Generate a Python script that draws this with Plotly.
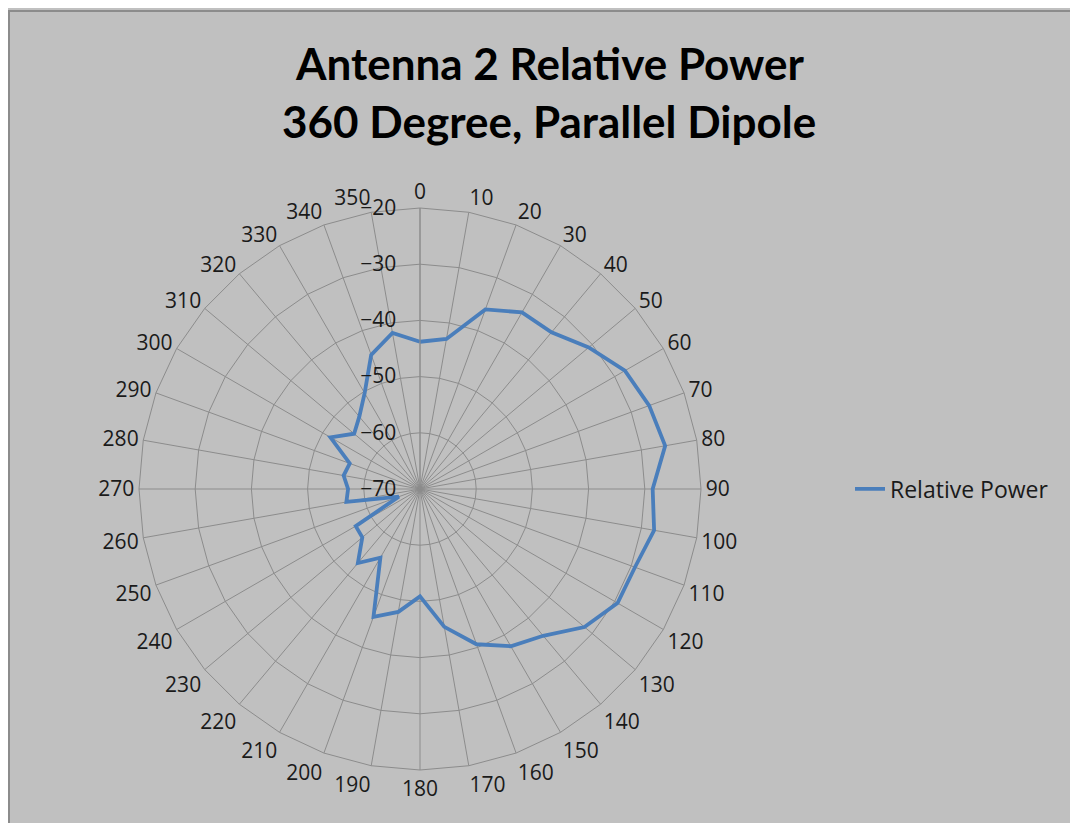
import plotly.graph_objects as go

angles = [str(a) for a in range(0, 360, 10)]
power = [-43.8, -42.9, -36.0, -33.7, -33.6, -30.8, -27.9, -26.6, -25.7, -28.6,
         -27.7, -29.3, -29.4, -31.8, -35.9, -37.7, -40.6, -45.1, -50.9, -47.8,
         -45.8, -55.9, -52.8, -56.6, -56.8, -66.0, -56.7, -57.2, -56.2, -56.7,
         -51.6, -54.7, -53.2, -50.3, -44.6, -41.8]
radial_ticks = [-70, -60, -50, -40, -30, -20]
series_name = "Relative Power"
title_lines = ["Antenna 2 Relative Power", "360 Degree, Parallel Dipole"]

fig = go.Figure()
fig.add_trace(go.Scatterpolar(
    r=power + power[:1],
    theta=angles + angles[:1],
    mode="lines",
    name=series_name,
    line=dict(color="#4A7EBB", width=3.8),
))

W, H = 1078, 823
OFF = 8  # page body margin
def px(x):
    return (x - OFF) / W
def py(y):
    return 1 - (y - OFF) / H

cx, cy, R = 420, 489, 281
fig.update_layout(
    width=W, height=H,
    margin=dict(l=0, r=0, t=0, b=0),
    paper_bgcolor="#C0C0C0",
    plot_bgcolor="#C0C0C0",
    font=dict(family="Open Sans", color="#1a1a1a"),
    shapes=[dict(type="rect", xref="paper", yref="paper",
                 x0=px(9), x1=1.05, y0=-0.05, y1=py(11),
                 fillcolor="#C0C0C0", line=dict(color="#8C8C8C", width=2),
                 layer="below")],
    annotations=[
        dict(text=title_lines[0], x=px(549), y=py(63), xref="paper", yref="paper",
             xanchor="center", yanchor="middle", showarrow=False,
             font=dict(family="Lato", size=44, color="black", weight="bold")),
        dict(text=title_lines[1], x=px(549), y=py(121), xref="paper", yref="paper",
             xanchor="center", yanchor="middle", showarrow=False,
             font=dict(family="Lato", size=44, color="black", weight="bold")),
    ],
    polar=dict(
        domain=dict(x=[px(cx - R), px(cx + R)],
                    y=[py(cy + R), py(cy - R)]),
        bgcolor="#C0C0C0",
        gridshape="linear",
        angularaxis=dict(
            type="category", rotation=90, direction="clockwise",
            showline=True, linecolor="#8C8C8C", linewidth=1,
            gridcolor="#8C8C8C", gridwidth=1,
            ticks="", tickfont=dict(size=21, color="#1a1a1a"),
        ),
        radialaxis=dict(
            range=[-70, -20], tickvals=radial_ticks,
            angle=90, side="counterclockwise", tickangle=90,
            ticks="outside", ticklen=16, tickcolor="rgba(0,0,0,0)",
            showline=True, linecolor="#8C8C8C", linewidth=1,
            gridcolor="#8C8C8C", gridwidth=1,
            tickfont=dict(size=21, color="#1a1a1a"),
        ),
    ),
    showlegend=True,
    legend=dict(x=px(850), y=py(489), xanchor="left", yanchor="middle",
                bgcolor="rgba(0,0,0,0)", font=dict(size=23, color="#1a1a1a")),
)

fig.write_html("out.html")
